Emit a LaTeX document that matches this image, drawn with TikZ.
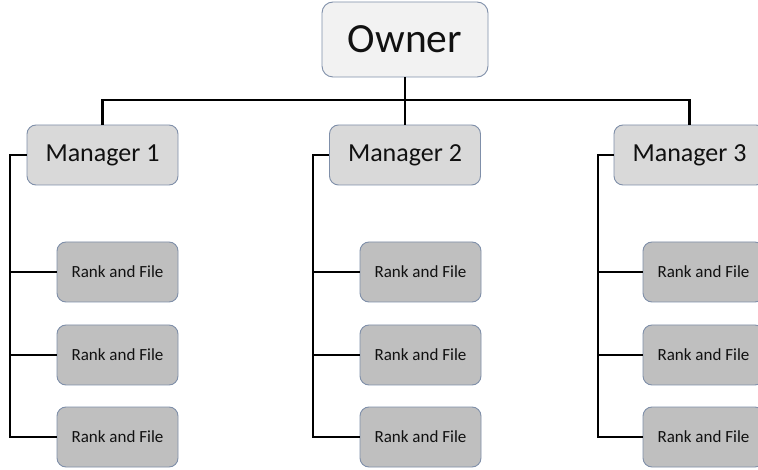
\documentclass[tikz,border=0pt]{standalone}
\usepackage{fontspec}
\setmainfont{Carlito}
\definecolor{edgeblue}{HTML}{7F8FA9}
\definecolor{ownerfill}{HTML}{F2F2F2}
\definecolor{mgrfill}{HTML}{D9D9D9}
\definecolor{rankfill}{HTML}{BFBFBF}
\definecolor{inktext}{HTML}{111111}
\tikzset{
  ownerbox/.style={draw=edgeblue, fill=ownerfill, line width=0.9pt, rounded corners=11pt,
    minimum width=166pt, minimum height=75pt, inner sep=0pt, text=inktext,
    font=\fontsize{41.5}{41.5}\selectfont},
  mgrbox/.style={draw=edgeblue, fill=mgrfill, line width=0.9pt, rounded corners=9pt,
    minimum width=151pt, minimum height=60pt, inner sep=0pt, text=inktext,
    font=\fontsize{26}{26}\selectfont},
  rankbox/.style={draw=edgeblue, fill=rankfill, line width=0.9pt, rounded corners=9pt,
    minimum width=121pt, minimum height=60pt, inner sep=0pt, text=inktext,
    font=\fontsize{17}{17}\selectfont},
  wire/.style={draw=black, line width=2.4pt, line join=miter}
}
\begin{document}
\begin{tikzpicture}[x=1pt, y=-1pt]
  \useasboundingbox (0,0) rectangle (758,470);
  \clip (0,0) rectangle (758,470);
  \fill[white] (0,0) rectangle (758,470);

  % top level
  \node[ownerbox] (owner) at (405,39.5) {Owner};

  % managers
  \node[mgrbox] (m1) at (102.5,155) {Manager 1};
  \node[mgrbox] (m2) at (405,155) {Manager 2};
  \node[mgrbox] (m3) at (689.5,155) {Manager 3};

  % staff under each manager
  \foreach \c/\x in {1/117.5, 2/420.5, 3/703.5}{
    \node[rankbox] (r\c1) at (\x,272) {Rank and File};
    \node[rankbox] (r\c2) at (\x,355) {Rank and File};
    \node[rankbox] (r\c3) at (\x,437) {Rank and File};
  }

  % owner to managers
  \coordinate (bus) at (405,100);
  \draw[wire] (owner.south) -- (m2.north);
  \draw[wire] (m1.north) -- (m1.north |- bus) -- (m3.north |- bus) -- (m3.north);

  % manager spines
  \coordinate (s1) at (10,155);
  \coordinate (s2) at (313,155);
  \coordinate (s3) at (598,155);
  \foreach \c in {1,2,3}{
    \draw[wire] (m\c.west) -- (s\c) -- (s\c |- r\c3.west) -- (r\c3.west);
    \draw[wire] (s\c |- r\c1.west) -- (r\c1.west);
    \draw[wire] (s\c |- r\c2.west) -- (r\c2.west);
  }
\end{tikzpicture}
\end{document}
